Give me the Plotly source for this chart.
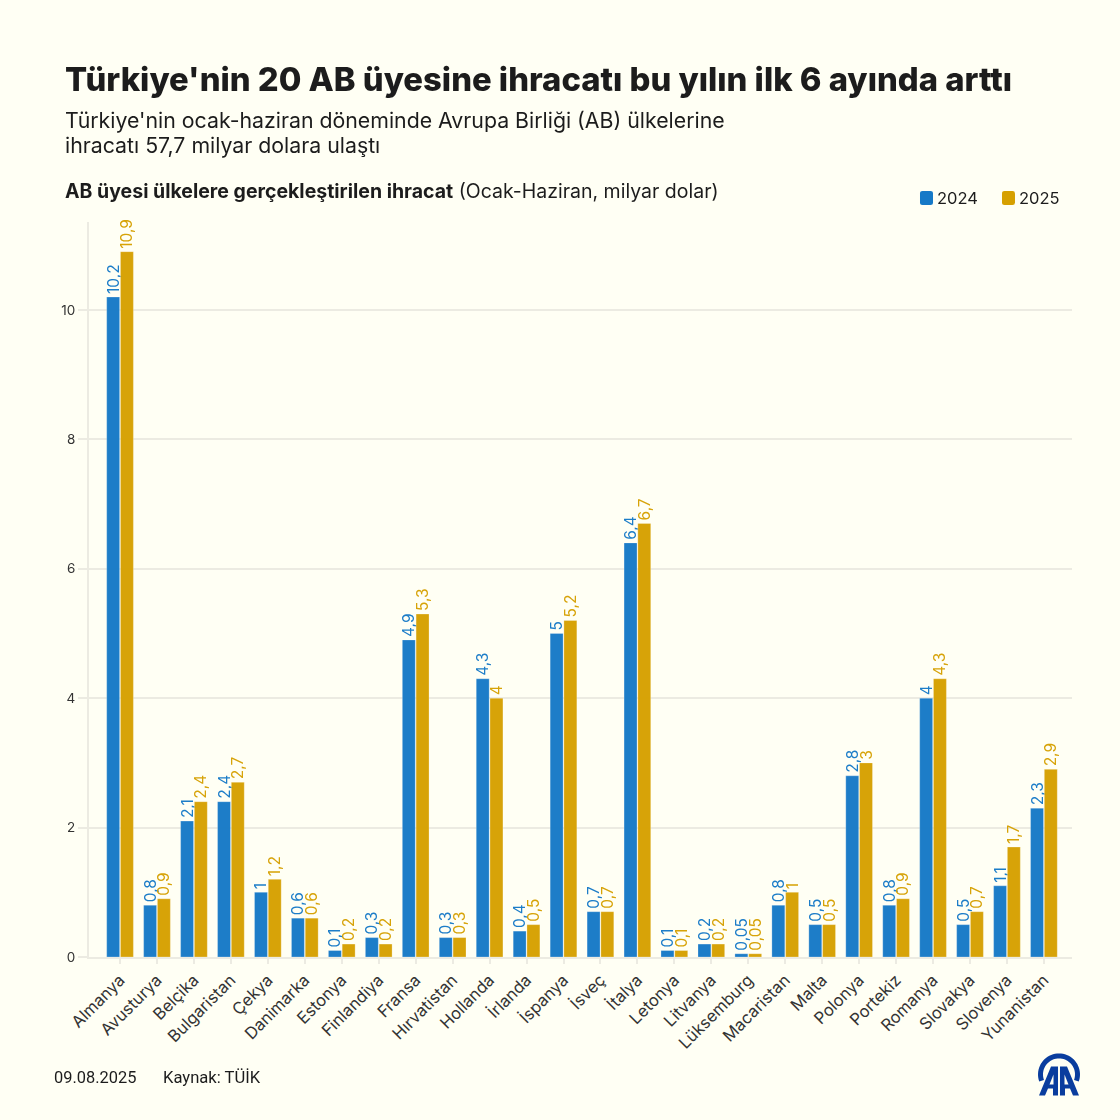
import math
import plotly.graph_objects as go

countries = ["Almanya","Avusturya","Belçika","Bulgaristan","Çekya","Danimarka","Estonya","Finlandiya","Fransa","Hırvatistan","Hollanda","İrlanda","İspanya","İsveç","İtalya","Letonya","Litvanya","Lüksemburg","Macaristan","Malta","Polonya","Portekiz","Romanya","Slovakya","Slovenya","Yunanistan"]
v2024 = [10.2,0.8,2.1,2.4,1,0.6,0.1,0.3,4.9,0.3,4.3,0.4,5,0.7,6.4,0.1,0.2,0.05,0.8,0.5,2.8,0.8,4,0.5,1.1,2.3]
v2025 = [10.9,0.9,2.4,2.7,1.2,0.6,0.2,0.2,5.3,0.3,4,0.5,5.2,0.7,6.7,0.1,0.2,0.05,1,0.5,3,0.9,4.3,0.7,1.7,2.9]
series_names = ["2024","2025"]
colors = ["#1679c7","#d6a000"]
yticks = [0,2,4,6,8,10]

W = H = 1120
L, R, T, B = 89, 1072, 222, 957.5
FONT = "Inter"
BG = "#fffff4"
TEXT = "#1c1c1c"
def fx(p): return (p-L)/(R-L)
def fy(p): return (B-p)/(B-T)
def lab(v): return str(v).replace(".",",")

fig = go.Figure()
for name, vals, c in zip(series_names,[v2024,v2025],colors):
    fig.add_bar(name=name,x=countries,y=vals,marker=dict(color=c,line=dict(color="rgba(255,255,255,0.25)",width=1)),opacity=0.97,
        text=[lab(v) for v in vals],textposition="outside",textangle=-90,cliponaxis=False,constraintext="none",
        textfont=dict(family=FONT,size=15.5,color=c),showlegend=False)

def note(x,y,text,size,weight=400,color=TEXT,family=FONT):
    fig.add_annotation(xref="paper",yref="paper",x=fx(x),y=fy(y),text=text,showarrow=False,xanchor="left",yanchor="middle",
        font=dict(family=family,size=size,color=color,weight=weight),align="left",borderpad=0,borderwidth=0)

note(65,79,"Türkiye'nin 20 AB üyesine ihracatı bu yılın ilk 6 ayında arttı",32.8,800)
note(65,120,"Türkiye'nin ocak-haziran döneminde Avrupa Birliği (AB) ülkelerine",21.3)
note(65,145,"ihracatı 57,7 milyar dolara ulaştı",21.3)
note(65,191,"<b>AB üyesi ülkelere gerçekleştirilen ihracat</b> (Ocak-Haziran, milyar dolar)",19.5)
note(54,1078,"09.08.2025",16.4,family="Roboto")
note(163,1078,"Kaynak: TÜİK",16.6,family="Roboto")

def P(x,y): return f"{fx(x):.5f} {fy(y):.5f}"
def poly(pts): return "M"+" L".join(P(*q) for q in pts)+" Z"
shapes=[]
for sx, tx, name, c in zip([920,1002],[937,1019],series_names,colors):
    x0,x1,y0,y1=sx,sx+13,191,205
    r=2.5
    path=(f"M{P(x0+r,y0)} L{P(x1-r,y0)} Q{P(x1,y0)} {P(x1,y0+r)} L{P(x1,y1-r)} Q{P(x1,y1)} {P(x1-r,y1)} "
          f"L{P(x0+r,y1)} Q{P(x0,y1)} {P(x0,y1-r)} L{P(x0,y0+r)} Q{P(x0,y0)} {P(x0+r,y0)} Z")
    shapes.append(dict(type="path",xref="paper",yref="paper",path=path,fillcolor=c,line=dict(width=0)))
    note(tx,198,name,16.5)

# Anadolu Agency mark
logo_c="#0a3d9e"
cx,cy=1059,1075
ang=[200-i*(220/40) for i in range(41)]
ring=[(cx+21*math.cos(math.radians(a)),cy-21*math.sin(math.radians(a))) for a in ang]+\
     [(cx+16*math.cos(math.radians(a)),cy-16*math.sin(math.radians(a))) for a in reversed(ang)]
A1=[(1039,1096),(1051,1067),(1058,1067),(1058,1096),(1053,1096),(1053,1089),(1048,1089),(1045,1096)]
A2=[(1079,1096),(1067,1067),(1060,1067),(1060,1096),(1065,1096),(1065,1089),(1070,1089),(1073,1096)]
C1=[(1049.5,1085),(1053.5,1085),(1053.5,1075)]
C2=[(1068.5,1085),(1064.5,1085),(1064.5,1075)]
for pts,col in ((ring,logo_c),(A1,logo_c),(A2,logo_c),(C1,BG),(C2,BG)):
    shapes.append(dict(type="path",xref="paper",yref="paper",path=poly(pts),fillcolor=col,line=dict(width=0)))

fig.update_layout(width=W,height=H,autosize=False,margin=dict(l=L,r=W-R,t=T,b=H-B),
    paper_bgcolor=BG,plot_bgcolor=BG,barmode="group",bargap=0.255,bargroupgap=0.06,
    font=dict(family=FONT,color=TEXT),shapes=shapes,showlegend=False)
fig.update_xaxes(range=[-0.84,25.76],tickangle=-45,tickfont=dict(family=FONT,size=16.5,color="#333"),ticks="outside",ticklen=5,tickcolor="#ecebe2",tickwidth=2,showline=True,linecolor="#ecebe2",linewidth=2,showgrid=False,automargin=False)
fig.update_yaxes(range=[0,(B-T)/64.75],tickvals=yticks,tickfont=dict(family=FONT,size=13.5,color="#333"),ticks="outside",ticklen=9,tickcolor="#ecebe2",tickwidth=2,showline=True,linecolor="#ecebe2",linewidth=2,gridcolor="#ecebe2",gridwidth=2,zeroline=False,automargin=False)
fig.write_html("out.html",config=dict(displayModeBar=False),post_script="document.documentElement.style.background='#fffff4';document.body.style.margin='0';document.body.style.background='#fffff4';")
